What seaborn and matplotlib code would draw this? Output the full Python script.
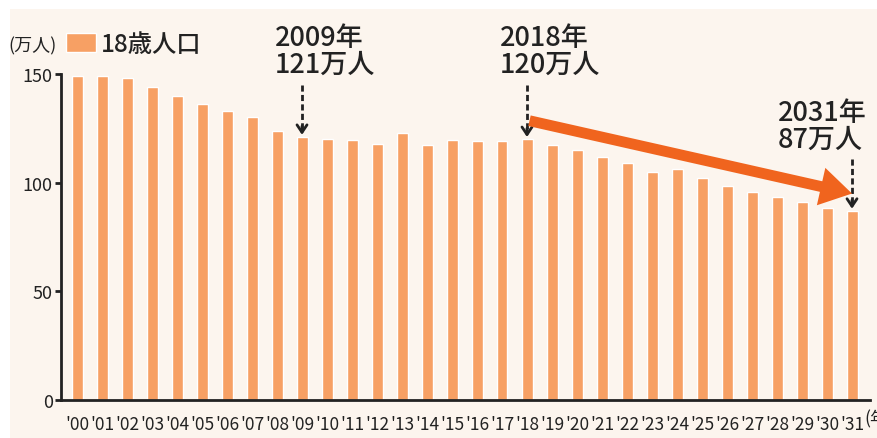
import matplotlib
matplotlib.use("Agg")
import matplotlib.pyplot as plt
import seaborn as sns
import pandas as pd
from matplotlib.patches import Rectangle

# 18-year-old population (10k persons), 2000-2031
years = [f"'{y:02d}" for y in range(0, 32)]
population = [149, 149, 148, 144, 140, 136, 133, 130, 124, 121,
              120, 119.5, 118, 123, 117.5, 119.5, 119, 119, 120, 117.5,
              115, 112, 109, 105, 106.5, 102, 98.5, 95.5, 93.5, 91,
              88.5, 87]
callouts = [(9, "2009年\n121万人"), (18, "2018年\n120万人"), (31, "2031年\n87万人")]
y_ticks = [0, 50, 100, 150]

CREAM = "#fcf5ee"
BAR = "#f7a064"
ARROW = "#f0641e"
INK = "#222222"

sns.set_theme(style="white")
plt.rcParams["font.family"] = ["Noto Sans CJK JP", "DejaVu Sans"]

fig = plt.figure(figsize=(8.77, 4.39), dpi=100, facecolor=CREAM)
# thin white margin along the top and left edges
fig.patches.append(Rectangle((0, 1 - 10 / 439), 1, 10 / 439, transform=fig.transFigure,
                             facecolor="white", edgecolor="none", zorder=0))
fig.patches.append(Rectangle((0, 0), 10 / 877, 1, transform=fig.transFigure,
                             facecolor="white", edgecolor="none", zorder=0))

ax = fig.add_axes([61 / 877, 38 / 439, 809 / 877, 326 / 439])
ax.set_facecolor(CREAM)

df = pd.DataFrame({"year": years, "pop": population})
sns.barplot(data=df, x="year", y="pop", color=BAR, saturation=1, width=0.44,
            label="18歳人口", ax=ax)

ax.set_xlim(-0.64, 31.72)
ax.set_ylim(0, 150)
ax.set_yticks(y_ticks)
ax.set_yticklabels([str(t) for t in y_ticks])
ax.set_xlabel("")
ax.set_ylabel("")

for side in ("top", "right"):
    ax.spines[side].set_visible(False)
for side in ("left", "bottom"):
    ax.spines[side].set_linewidth(2)
    ax.spines[side].set_color(INK)

ax.tick_params(axis="y", which="both", left=True, length=4, width=2, color=INK,
               labelsize=13, labelcolor=INK, pad=2)
ax.tick_params(axis="x", bottom=False, labelsize=12.5, labelcolor=INK, pad=5)

# unit after the last year label (runs off the right edge)
ax.annotate("(年)", xy=(31.5, 0), xycoords=("data", "axes fraction"),
            xytext=(0, -7), textcoords="offset points", ha="left", va="top",
            fontsize=12.5, color=INK, annotation_clip=False)

# unit and legend above the axis
fig.text(8 / 877, 1 - 46 / 439, "(万人)", fontsize=13, color=INK, va="center", ha="left")
ax.legend(loc="center left", bbox_to_anchor=(66 / 877, 1 - 45 / 439),
          bbox_transform=fig.transFigure, frameon=False,
          prop={"size": 17.5, "weight": "medium"},
          handlelength=1.25, handleheight=0.8, handletextpad=0.2,
          borderpad=0, borderaxespad=0, labelcolor=INK)

# callouts with dashed pointers to the bars
for idx, text in callouts:
    val = population[idx]
    if idx == 31:
        tx, ty, top = idx - 2.96, 138.5, 111
    else:
        tx, ty, top = idx - 1.1, 173, 145
    ax.text(tx, ty, text, fontsize=19.5, fontweight="medium", color=INK, ha="left",
            va="top", linespacing=1.0, clip_on=False)
    ax.plot([idx, idx], [top, val + 4], ls=(0, (2.2, 1.2)), lw=2, color=INK,
            clip_on=False, zorder=5)
    ax.annotate("", xy=(idx, val + 1), xytext=(idx, val + 5),
                arrowprops=dict(arrowstyle="->,head_length=0.45,head_width=0.3",
                                lw=2, color=INK, shrinkA=0, shrinkB=0),
                annotation_clip=False, zorder=5)

# declining trend arrow from 2018 to 2031
ax.annotate("", xy=(31.0, population[31] + 8), xytext=(18.1, population[18] + 8.5),
            arrowprops=dict(arrowstyle="simple,head_length=1.9,head_width=2.3,tail_width=0.65",
                            color=ARROW, lw=0, shrinkA=0, shrinkB=0),
            annotation_clip=False, zorder=6)

fig.savefig("out.png", dpi=100, facecolor=CREAM)
